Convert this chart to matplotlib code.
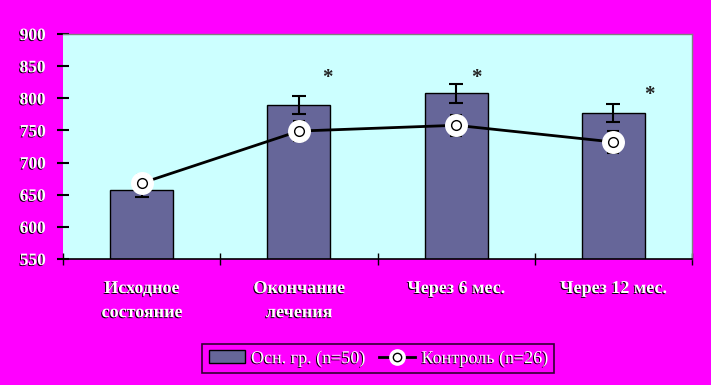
import matplotlib
matplotlib.use("Agg")
import matplotlib.pyplot as plt
import matplotlib.patheffects as pe
import matplotlib.transforms as mtransforms
from matplotlib.lines import Line2D
from matplotlib.patches import Patch
import numpy as np

categories = ["Исходное\nсостояние", "Окончание\nлечения", "Через 6 мес.", "Через 12 мес."]
main_values = [657, 789, 808, 777]
main_err = [11, 14, 15, 14]
control_values = [668, 749, 758, 732]
control_err = [12, 16, 16, 17]
star_idx = [1, 2, 3]
star_y = [832, 832, 805]
star_dx = [0.18, 0.13, 0.23]
yticks = [550, 600, 650, 700, 750, 800, 850, 900]
legend_labels = ["Осн. гр. (n=50)", "Контроль (n=26)"]

MAG = "#FF00FF"
CYAN = "#CCFFFF"
BAR = "#666699"

plt.rcParams['font.family'] = ['Liberation Serif', 'DejaVu Serif']
shadow = [pe.withSimplePatchShadow(offset=(-0.7, -0.7), shadow_rgbFace='black', alpha=1.0)]

fig = plt.figure(figsize=(7.11, 3.85), dpi=100, facecolor=MAG)
ax = fig.add_axes([63/711, 1-259/385, (692-63)/711, (259-34)/385])
ax.set_facecolor(CYAN)

x = np.arange(len(categories))
ax.bar(x, main_values, width=0.4, bottom=0, color=BAR, edgecolor='black', linewidth=1.0, zorder=2)
ax.errorbar(x, main_values, yerr=main_err, fmt='none', ecolor='black', elinewidth=1.5,
            capsize=5, capthick=1.5, zorder=3)
ax.errorbar(x, control_values, yerr=control_err, fmt='none', ecolor='black', elinewidth=1.5,
            capsize=4, capthick=1.5, zorder=3)
ax.plot(x, control_values, color='black', linewidth=2, zorder=4)
ax.plot(x, control_values, linestyle='none', marker='o', markersize=15.5,
        markerfacecolor='white', markeredgecolor='white', zorder=5)
ax.plot(x, control_values, linestyle='none', marker='o', markersize=7,
        markerfacecolor='white', markeredgecolor='black', markeredgewidth=1.0, zorder=6)

for i, yv, dx in zip(star_idx, star_y, star_dx):
    ax.text(i + dx, yv, "*", ha='center', va='center', fontsize=15, fontweight='bold',
            color='#222222', zorder=7)

ax.set_xlim(-0.5, len(categories) - 0.5)
ax.set_ylim(550, 900)
ax.set_yticks(yticks)
ax.set_yticklabels([str(v) for v in yticks], fontsize=12.5, fontweight='bold', color='white')
for t in ax.get_yticklabels():
    t.set_path_effects(shadow)
ax.tick_params(axis='y', direction='inout', length=9, width=1.5, color='black', pad=8)

ax.set_xticks(np.arange(len(categories) + 1) - 0.5)
ax.set_xticklabels([])
ax.tick_params(axis='x', direction='inout', length=9, width=1, color='black')
off = mtransforms.offset_copy(ax.get_xaxis_transform(), fig=fig, x=0, y=-21, units='dots')
for i, lab in enumerate(categories):
    t = ax.text(i, 0, lab, transform=off, ha='center', va='top',
                fontsize=13, fontweight='bold', color='white', linespacing=1.55)
    t.set_path_effects(shadow)

for s in ['top', 'right']:
    ax.spines[s].set_color('#808080')
    ax.spines[s].set_linewidth(1)
ax.spines['left'].set_visible(False)
ax.spines['bottom'].set_color('black')
ax.spines['bottom'].set_linewidth(1.2)

h1 = Patch(facecolor=BAR, edgecolor='black', linewidth=1)
h2a = Line2D([], [], color='black', linewidth=2, marker='o', markersize=11,
             markerfacecolor='white', markeredgecolor='white')
h2b = Line2D([], [], linestyle='none', marker='o', markersize=6,
             markerfacecolor='white', markeredgecolor='black', markeredgewidth=1)
leg = fig.legend([h1, (h2a, h2b)], legend_labels, loc='center', bbox_to_anchor=(378/711, 1-358.5/385),
                 ncol=2, frameon=True, fancybox=False, facecolor=MAG, edgecolor='black',
                 prop={'size': 13}, handlelength=2.0, handletextpad=0.35,
                 columnspacing=0.8, borderpad=0.35)
leg.get_frame().set_linewidth(1.2)
for t in leg.get_texts():
    t.set_color('white')
    t.set_path_effects(shadow)

fig.savefig("out.png", dpi=100, facecolor=MAG)
